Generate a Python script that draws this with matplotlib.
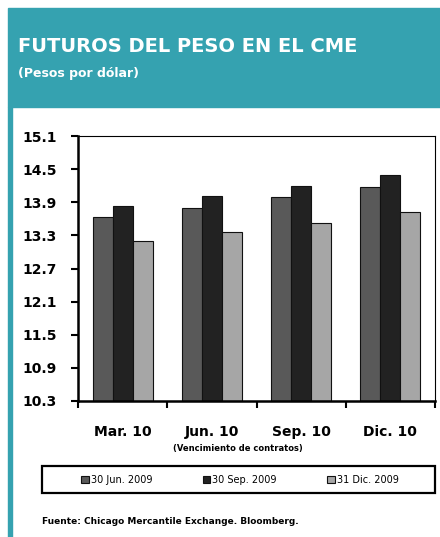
import matplotlib.pyplot as plt
import matplotlib.patches as patches
import numpy as np

# datos
contratos = ['Mar. 10', 'Jun. 10', 'Sep. 10', 'Dic. 10']
series = ['30 Jun. 2009', '30 Sep. 2009', '31 Dic. 2009']
jun_2009 = [13.64, 13.80, 13.99, 14.18]
sep_2009 = [13.83, 14.02, 14.20, 14.39]
dic_2009 = [13.20, 13.37, 13.53, 13.72]
y_ticks = [10.3, 10.9, 11.5, 12.1, 12.7, 13.3, 13.9, 14.5, 15.1]

colores = ['#595959', '#222222', '#a6a6a6']
teal = '#35a2b0'

W, H = 440, 537
fig = plt.figure(figsize=(W / 100, H / 100), dpi=100)
plt.rcParams['font.family'] = ['DejaVu Sans']

# encabezado
fig.patches.append(patches.Rectangle((8 / W, 1 - 107 / H), 432 / W, 99 / H,
                                     transform=fig.transFigure, color=teal, zorder=0))
fig.patches.append(patches.Rectangle((8 / W, 0), 3.5 / W, 1 - 107 / H,
                                     transform=fig.transFigure, color=teal, zorder=0))
fig.text(18 / W, 1 - 46 / H, 'FUTUROS DEL PESO EN EL CME', color='white',
         fontsize=14, fontweight='bold', va='center', ha='left')
fig.text(18 / W, 1 - 73 / H, '(Pesos por dólar)', color='white',
         fontsize=9, fontweight='bold', va='center', ha='left')

ax = fig.add_axes([78 / W, 1 - 401 / H, 357 / W, 265 / H])
x = np.arange(len(contratos))
w = 0.225
for i, (vals, nombre) in enumerate(zip([jun_2009, sep_2009, dic_2009], series)):
    ax.bar(x + (i - 1) * w, np.array(vals) - 10.3, bottom=10.3, width=w,
           color=colores[i], edgecolor='#111111', linewidth=0.8, label=nombre)

ax.set_xlim(-0.5, len(contratos) - 0.5)
ax.set_ylim(10.3, 15.1)
ax.set_yticks(y_ticks)
ax.set_yticklabels([f'{v:.1f}' for v in y_ticks], fontsize=10, fontweight='bold')
ax.set_xticks(x)
ax.set_xticklabels(contratos, fontsize=10, fontweight='bold')
ax.tick_params(axis='x', length=0, pad=17)
ax.set_xticks(np.arange(-0.5, len(contratos)), minor=True)
ax.tick_params(axis='x', which='minor', length=5, width=1.5, direction='out')
ax.tick_params(axis='y', length=5, width=1.5, direction='out', pad=10)
for s in ['left', 'bottom']:
    ax.spines[s].set_linewidth(1.8)
for s in ['top', 'right']:
    ax.spines[s].set_linewidth(0.8)

fig.text(238 / W, 1 - 448 / H, '(Vencimiento de contratos)', fontsize=6,
         fontweight='bold', ha='center', va='center')

# leyenda
fig.patches.append(patches.Rectangle((42 / W, 1 - 493 / H), 393 / W, 27 / H,
                                     transform=fig.transFigure, fill=False,
                                     edgecolor='black', linewidth=1.6))
h, l = ax.get_legend_handles_labels()
fig.legend(h, l, loc='center', bbox_to_anchor=(240 / W, 1 - 480 / H), ncol=3,
           frameon=False, fontsize=7, handlelength=0.8, handleheight=0.8,
           handletextpad=0.2, columnspacing=5.2)

fig.text(42 / W, 1 - 522 / H, 'Fuente: Chicago Mercantile Exchange. Bloomberg.',
         fontsize=6.5, fontweight='bold', ha='left', va='center')

fig.savefig('out.png', dpi=100)
